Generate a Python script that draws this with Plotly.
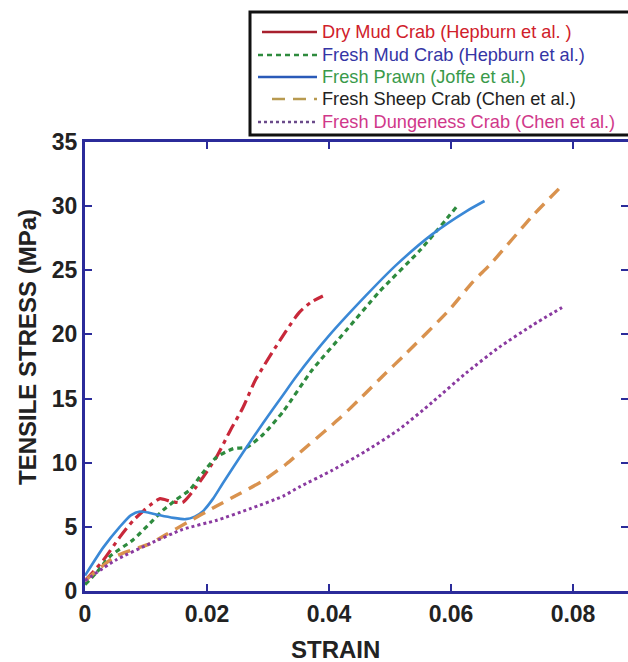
import plotly.graph_objects as go

# ---------------- data ----------------
series_names = [
    "Dry Mud Crab (Hepburn et al. )",
    "Fresh Mud Crab (Hepburn et al.)",
    "Fresh Prawn (Joffe et al.)",
    "Fresh Sheep Crab (Chen et al.)",
    "Fresh Dungeness Crab (Chen et al.)",
]

dry_mud_x = [0, 0.003, 0.0057, 0.0079, 0.0107, 0.0123, 0.0140, 0.0160, 0.0182,
             0.0215, 0.0238, 0.0259, 0.028, 0.033, 0.0351, 0.037, 0.039]
dry_mud_y = [0.8, 2.4, 4.2, 5.5, 6.7, 7.2, 7.0, 6.9, 8.1,
             10.4, 12.5, 14.3, 16.5, 20.3, 21.7, 22.5, 23.0]

fresh_mud_x = [0, 0.002, 0.0041, 0.0079, 0.0107, 0.0128, 0.0149, 0.0172, 0.0193,
               0.0215, 0.0243, 0.0265, 0.0292, 0.0325, 0.0372, 0.0428, 0.0482,
               0.055, 0.061]
fresh_mud_y = [0.5, 1.5, 2.7, 4.0, 5.3, 6.3, 7.1, 7.9, 9.2,
               10.4, 11.1, 11.2, 12.2, 14.0, 17.2, 20.3, 23.3,
               26.6, 30.0]

prawn_x = [0, 0.003, 0.0057, 0.0075, 0.009, 0.0105, 0.0123, 0.0145, 0.0165,
           0.018, 0.0193, 0.021, 0.0226, 0.0259, 0.0292, 0.0325, 0.0346,
           0.040, 0.046, 0.051, 0.0569, 0.0625, 0.0655]
prawn_y = [1.2, 3.4, 5.0, 5.9, 6.2, 6.1, 5.9, 5.7, 5.6,
           5.8, 6.2, 7.2, 8.4, 10.8, 13.1, 15.3, 16.7,
           19.9, 23.0, 25.4, 27.8, 29.6, 30.4]

sheep_x = [0, 0.005, 0.0107, 0.0133, 0.0166, 0.0215, 0.0254, 0.0292, 0.033,
           0.0367, 0.0416, 0.0449, 0.0487, 0.0526, 0.0597, 0.0634, 0.0667,
           0.0733, 0.0782]
sheep_y = [0.8, 2.7, 3.7, 4.4, 5.3, 6.6, 7.6, 8.6, 9.9,
           11.4, 13.4, 14.9, 16.7, 18.5, 21.9, 24.0, 25.6,
           29.2, 31.6]

dungeness_x = [0, 0.005, 0.0107, 0.016, 0.0215, 0.027, 0.0325, 0.0351, 0.0405,
               0.046, 0.0515, 0.0569, 0.0625, 0.0679, 0.0733, 0.0782]
dungeness_y = [0.8, 2.4, 3.7, 4.8, 5.5, 6.4, 7.4, 8.1, 9.4,
               10.9, 12.6, 14.7, 17.0, 19.0, 20.7, 22.1]

x_tickvals = [0, 0.02, 0.04, 0.06, 0.08]
x_ticktext = ["0", "0.02", "0.04", "0.06", "0.08"]
y_tickvals = [0, 5, 10, 15, 20, 25, 30, 35]
y_ticktext = ["0", "5", "10", "15", "20", "25", "30", "35"]

# ---------------- styling ----------------
W, H = 628, 662
ML, MR, MT, MB = 85, 0, 142, 71
PW = W - ML - MR
PH = H - MT - MB
X_PER_PX = 1 / 6100.0

def px(xp):
    return (xp - ML) / PW

def py(yp):
    return (H - MB - yp) / PH

line_colors = ["#c8283a", "#2e8b3e", "#3a88d6", "#d9924e", "#8a3aa0"]
line_dashes = ["13px,5px,4px,5px", "5px,4px", "solid", "13px,8px", "3px,3px"]
line_widths = [3.2, 3.2, 2.6, 3.4, 3.0]

legend_line_colors = ["#a8202e", "#2e8b3e", "#2a5ab8", "#b89a50", "#6a4a8a"]
legend_text_colors = ["#d0202a", "#3535a5", "#3a9a4a", "#222222", "#d0388a"]

xs = [dry_mud_x, fresh_mud_x, prawn_x, sheep_x, dungeness_x]
ys = [dry_mud_y, fresh_mud_y, prawn_y, sheep_y, dungeness_y]

fig = go.Figure()
for i, name in enumerate(series_names):
    fig.add_trace(go.Scatter(
        x=xs[i], y=ys[i], mode="lines", name=name,
        line=dict(color=line_colors[i], dash=line_dashes[i],
                  width=line_widths[i], shape="spline", smoothing=0.6),
        showlegend=False, hoverinfo="skip",
    ))
# carrier trace for the right-hand tick axis (draws nothing)
fig.add_trace(go.Scatter(x=[None], y=[None], yaxis="y2", mode="lines",
                         showlegend=False, hoverinfo="skip"))

axis_color = "#2b2b9a"
tickfont = dict(family="Liberation Sans, Arial, sans-serif", size=23,
                color="#222222", weight=700)

fig.update_layout(
    xaxis=dict(
        range=[0, PW * X_PER_PX], tickvals=x_tickvals, ticktext=x_ticktext,
        showline=True, linecolor=axis_color, linewidth=3, mirror="ticks",
        ticks="inside", ticklen=7, tickwidth=2, tickcolor=axis_color,
        showgrid=False, zeroline=False, tickfont=tickfont,
    ),
    yaxis=dict(
        range=[0, 35], tickvals=y_tickvals, ticktext=y_ticktext,
        showline=True, linecolor=axis_color, linewidth=3, mirror=False,
        ticks="inside", ticklen=7, tickwidth=2, tickcolor=axis_color,
        showgrid=False, zeroline=False, tickfont=tickfont,
    ),
    yaxis2=dict(
        overlaying="y", side="right", range=[0, 35], tickvals=y_tickvals,
        showline=False, ticks="inside", ticklen=7, tickwidth=2,
        tickcolor=axis_color, showticklabels=False, showgrid=False,
        zeroline=False,
    ),
)

# ---------------- custom legend ----------------
shapes = [dict(type="rect", xref="paper", yref="paper",
               x0=px(250), x1=px(640), y0=py(135), y1=py(12),
               line=dict(color="#111111", width=3), fillcolor="white",
               layer="above")]
annotations = []
row_y = [32, 55, 77, 99, 122]
sample_x0 = [262, 258, 258, 272, 258]
for i, name in enumerate(series_names):
    shapes.append(dict(type="line", xref="paper", yref="paper",
                       x0=px(sample_x0[i]), x1=px(317),
                       y0=py(row_y[i]), y1=py(row_y[i]),
                       line=dict(color=legend_line_colors[i], width=2.6,
                                 dash=line_dashes[i] if i != 0 else "solid"),
                       layer="above"))
    annotations.append(dict(xref="paper", yref="paper", x=px(320), y=py(row_y[i]),
                            xanchor="left", yanchor="middle", showarrow=False,
                            text=name,
                            font=dict(family="Liberation Sans, Arial, sans-serif",
                                      size=18.2, color=legend_text_colors[i])))

title_font = dict(family="Liberation Sans, Arial, sans-serif", size=24,
                  color="#222222", weight=700)
annotations.append(dict(xref="paper", yref="paper", x=px(335), y=py(649),
                        xanchor="center", yanchor="middle", showarrow=False,
                        text="STRAIN", font=title_font))
annotations.append(dict(xref="paper", yref="paper", x=px(27), y=py(347),
                        xanchor="center", yanchor="middle", showarrow=False,
                        text="TENSILE STRESS (MPa)", textangle=-90, font=title_font))

fig.update_layout(
    width=W, height=H,
    margin=dict(l=ML, r=MR, t=MT, b=MB, pad=0),
    paper_bgcolor="white", plot_bgcolor="white",
    shapes=shapes, annotations=annotations, showlegend=False,
)

fig.write_html("out.html", config={"displayModeBar": False})

# remove the browser's default page margin so the figure sits at the top-left corner
with open("out.html", "r", encoding="utf-8") as f:
    html = f.read()
html = html.replace("<head>", "<head><style>html,body{margin:0;padding:0;overflow:hidden;}</style>", 1)
with open("out.html", "w", encoding="utf-8") as f:
    f.write(html)
